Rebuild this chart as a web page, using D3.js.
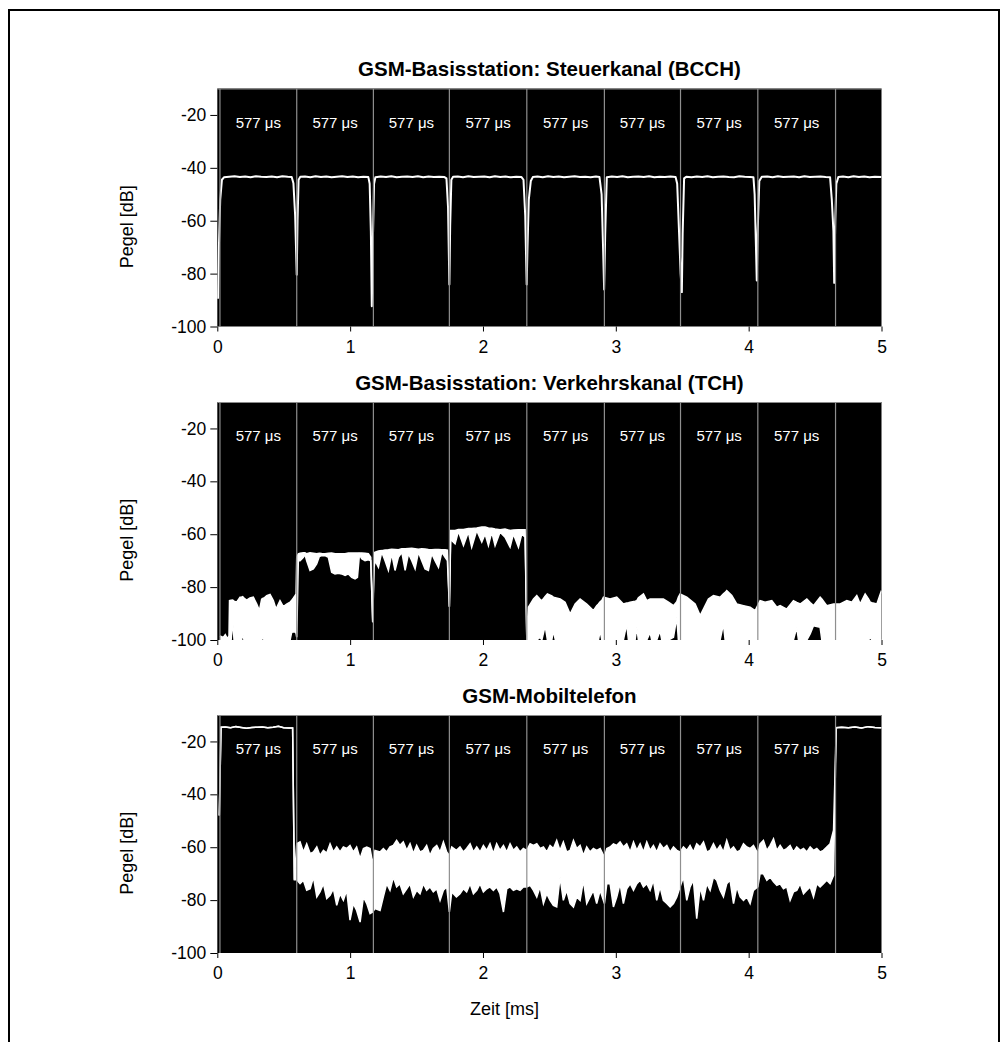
<!DOCTYPE html>
<html><head><meta charset="utf-8">
<script src="https://cdn.jsdelivr.net/npm/d3@7"></script>
<style>
body{margin:0;background:#fff}
svg{display:block}
text{font-family:"Liberation Sans",Arial,Helvetica,sans-serif}
</style>
</head><body>
<svg id="chart" width="1003" height="1042"></svg>
<script>
// ---------------- DATA ----------------
const panelTitles = [
  "GSM-Basisstation: Steuerkanal (BCCH)",
  "GSM-Basisstation: Verkehrskanal (TCH)",
  "GSM-Mobiltelefon"
];
const xLabel = "Zeit [ms]";
const yLabel = "Pegel [dB]";
const xTicks = [0, 1, 2, 3, 4, 5];
const yTicks = [-100, -80, -60, -40, -20];
const xDomain = [0, 5];
const yDomain = [-100, -10];
const slotEdges = [0.02, 0.598, 1.175, 1.747, 2.33, 2.914, 3.487, 4.069, 4.654];
const slotLabel = "577 \u03BCs";

// Panel 1: BCCH level trace [t (ms), level (dB)]
const bcch = [
 [0.005,-89.5],[0.012,-70],[0.022,-52],[0.035,-44.5],[0.05,-43.6],[0.09,-43.4],[0.13,-43.2],[0.17,-43.5],
 [0.21,-43.3],[0.25,-43.6],[0.29,-43.2],[0.33,-43.4],[0.37,-43.5],[0.41,-43.3],[0.45,-43.6],[0.49,-43.2],
 [0.53,-43.4],[0.56,-43.5],[0.573,-45.8],[0.586,-58],[0.598,-80.4],[0.604,-60],[0.612,-44.5],[0.625,-43.4],
 [0.66,-43.3],[0.70,-43.6],[0.74,-43.2],[0.78,-43.5],[0.82,-43.3],[0.86,-43.6],[0.90,-43.4],[0.94,-43.2],
 [0.98,-43.5],[1.02,-43.3],[1.06,-43.6],[1.10,-43.4],[1.137,-43.5],[1.147,-46],[1.156,-64],[1.163,-92.3],
 [1.170,-70],[1.180,-46],[1.19,-43.6],[1.23,-43.3],[1.27,-43.5],[1.31,-43.2],[1.35,-43.6],[1.39,-43.4],
 [1.43,-43.3],[1.47,-43.5],[1.51,-43.2],[1.55,-43.6],[1.59,-43.3],[1.63,-43.5],[1.67,-43.4],[1.71,-43.5],
 [1.725,-44],[1.737,-55],[1.747,-84.1],[1.753,-62],[1.762,-44.5],[1.775,-43.4],[1.81,-43.3],[1.85,-43.6],
 [1.89,-43.2],[1.93,-43.5],[1.97,-43.4],[2.01,-43.3],[2.05,-43.6],[2.09,-43.2],[2.13,-43.5],[2.17,-43.3],
 [2.21,-43.6],[2.25,-43.4],[2.29,-43.5],[2.305,-44.5],[2.318,-58],[2.329,-84.1],[2.335,-70],[2.345,-52],
 [2.36,-45],[2.375,-43.5],[2.41,-43.3],[2.45,-43.6],[2.49,-43.2],[2.53,-43.5],[2.57,-43.3],[2.61,-43.6],
 [2.65,-43.4],[2.69,-43.2],[2.73,-43.5],[2.77,-43.4],[2.81,-43.6],[2.85,-43.3],[2.877,-43.5],[2.893,-50],
 [2.905,-72],[2.912,-86.0],[2.920,-65],[2.932,-43.6],[2.97,-43.3],[3.01,-43.5],[3.05,-43.2],[3.09,-43.6],
 [3.13,-43.4],[3.17,-43.3],[3.21,-43.5],[3.25,-43.2],[3.29,-43.6],[3.33,-43.4],[3.37,-43.5],[3.41,-43.3],
 [3.45,-43.5],[3.462,-46],[3.475,-63],[3.488,-80],[3.497,-87.0],[3.503,-65],[3.514,-44],[3.53,-43.4],
 [3.57,-43.6],[3.61,-43.3],[3.65,-43.5],[3.69,-43.2],[3.73,-43.6],[3.77,-43.4],[3.81,-43.3],[3.85,-43.5],
 [3.89,-43.6],[3.93,-43.2],[3.97,-43.4],[4.01,-43.5],[4.036,-43.6],[4.045,-50],[4.055,-70],[4.061,-82.6],
 [4.068,-64],[4.08,-45],[4.099,-43.4],[4.14,-43.3],[4.18,-43.6],[4.22,-43.2],[4.26,-43.5],[4.30,-43.4],
 [4.34,-43.3],[4.38,-43.6],[4.42,-43.2],[4.46,-43.5],[4.50,-43.4],[4.54,-43.3],[4.58,-43.5],[4.613,-43.6],
 [4.626,-52.1],[4.638,-64],[4.644,-83.5],[4.652,-60],[4.66,-46],[4.675,-43.5],[4.71,-43.3],[4.75,-43.6],
 [4.79,-43.2],[4.83,-43.5],[4.87,-43.3],[4.91,-43.6],[4.95,-43.4],[5.0,-43.5]
];

// Panel 2: TCH envelope [t (ms), upper (dB), lower (dB)]
const tch = [
 [0.02,-98.5,-100],[0.045,-99,-100],[0.06,-98,-100],[0.075,-99.5,-100],[0.088,-98.5,-100],
 [0.092,-85.1,-100],[0.104,-85.0,-100],[0.116,-84.9,-92.7],[0.126,-85.3,-100],[0.146,-85.7,-100],
 [0.171,-83.8,-100],[0.183,-83.7,-100],[0.191,-83.6,-97.4],[0.201,-84.2,-100],[0.221,-84.9,-100],
 [0.246,-84.1,-100],[0.271,-83.8,-100],[0.297,-86.4,-100],[0.317,-88.9,-100],[0.334,-84.6,-100],
 [0.342,-84.3,-98.7],[0.352,-84.1,-100],[0.372,-83.2,-100],[0.397,-82.8,-100],[0.422,-85.1,-100],
 [0.442,-88.3,-100],[0.472,-85.1,-100],[0.497,-87.4,-100],[0.522,-86.4,-100],[0.548,-85.7,-100],
 [0.560,-85.0,-97.1],[0.573,-84.1,-97.0],[0.585,-83.2,-96.9],[0.593,-82.6,-97.5],
 [0.598,-68.7,-99],[0.610,-67.4,-70.0],[0.623,-67.2,-70.0],[0.648,-67.0,-68.7],[0.660,-67.0,-67.7],
 [0.673,-67.4,-70.0],[0.698,-67.0,-73.7],[0.723,-67.2,-73.1],[0.748,-67.4,-71.2],[0.768,-67.2,-68.4],
 [0.786,-67.3,-68.1],[0.811,-67.4,-68.1],[0.836,-67.2,-68.7],[0.861,-67.1,-74.4],[0.886,-67.4,-75.0],
 [0.911,-67.4,-74.8],[0.936,-67.4,-75.0],[0.962,-67.4,-75.6],[0.987,-67.1,-75.0],[1.012,-67.1,-76.3],
 [1.037,-67.1,-76.9],[1.055,-67.1,-76.3],[1.070,-67.1,-67.7],[1.087,-67.1,-69.3],[1.112,-67.2,-70.0],
 [1.137,-67.4,-69.7],[1.155,-68.7,-70.0],[1.170,-93.3,-93.3],[1.180,-67.0,-72.5],
 [1.188,-66.8,-70.0],[1.213,-66.3,-72.5],[1.238,-66.2,-66.8],[1.263,-66.0,-70.0],[1.288,-65.9,-73.7],
 [1.313,-65.7,-67.4],[1.338,-65.8,-73.7],[1.363,-65.9,-68.7],[1.389,-65.5,-66.8],[1.414,-65.5,-73.7],
 [1.439,-65.4,-67.4],[1.464,-65.3,-70.0],[1.489,-65.5,-73.1],[1.514,-65.7,-66.8],[1.539,-65.5,-70.0],
 [1.564,-65.6,-73.1],[1.589,-65.8,-73.7],[1.614,-65.9,-67.4],[1.639,-65.8,-70.0],[1.665,-65.8,-72.5],
 [1.690,-65.9,-66.8],[1.715,-65.9,-68.7],[1.732,-66.0,-70.0],[1.747,-87.4,-87.4],[1.757,-58.6,-62.0],
 [1.765,-58.6,-62.4],[1.790,-58.6,-63.6],[1.815,-58.2,-58.9],[1.853,-58.2,-64.3],[1.890,-57.8,-59.2],
 [1.915,-57.8,-64.9],[1.953,-57.6,-58.6],[1.991,-57.3,-63.0],[2.016,-57.3,-59.9],[2.041,-57.6,-64.3],
 [2.066,-57.7,-59.2],[2.091,-58.0,-64.3],[2.129,-58.3,-59.2],[2.166,-58.0,-61.1],[2.204,-58.6,-64.9],
 [2.229,-58.4,-59.9],[2.267,-58.3,-64.9],[2.292,-58.3,-59.9],[2.317,-58.3,-61.1],[2.330,-100,-100],
 [2.342,-87.6,-100],[2.380,-84.5,-100],[2.405,-83.2,-100],[2.430,-84.6,-99.0],[2.443,-85.1,-100],
 [2.468,-83.5,-94.6],[2.485,-82.6,-100],[2.518,-83.3,-100],[2.530,-83.8,-96.5],[2.545,-84.0,-100],
 [2.581,-84.5,-100],[2.618,-85.7,-100],[2.656,-90.2,-100],[2.694,-86.4,-100],[2.731,-84.5,-100],
 [2.781,-86.4,-100],[2.831,-88.9,-100],[2.856,-87.0,-100],[2.869,-86.4,-100],[2.882,-85.5,-96.5],
 [2.895,-85.0,-100],[2.907,-83.8,-100],[2.957,-84.5,-100],[3.007,-83.8,-100],[3.057,-86.4,-100],
 [3.082,-86.0,-94.0],[3.095,-85.9,-100],[3.108,-85.7,-100],[3.145,-85.3,-100],[3.158,-85.1,-95.2],
 [3.170,-84.0,-100],[3.208,-82.6,-100],[3.233,-85.1,-100],[3.258,-84.5,-97.1],[3.270,-84.5,-100],
 [3.308,-84.5,-100],[3.333,-84.5,-96.5],[3.346,-84.5,-100],[3.358,-84.5,-100],[3.396,-85.7,-100],
 [3.434,-87.0,-99.0],[3.459,-85.5,-91.4],[3.471,-83.8,-100],[3.484,-82.6,-100],[3.534,-83.8,-100],
 [3.597,-86.4,-100],[3.635,-90.8,-100],[3.697,-84.5,-100],[3.735,-83.2,-100],[3.785,-83.8,-100],
 [3.810,-82.5,-94.0],[3.823,-82.0,-100],[3.835,-81.3,-100],[3.873,-83.2,-100],[3.911,-86.4,-100],
 [3.961,-87.0,-100],[4.011,-87.6,-100],[4.049,-88.9,-100],[4.086,-85.1,-100],[4.124,-85.7,-100],
 [4.174,-85.1,-100],[4.212,-87.6,-100],[4.237,-87.0,-100],[4.287,-88.3,-100],[4.337,-85.1,-100],
 [4.362,-85.8,-95.2],[4.375,-86.1,-100],[4.388,-86.4,-100],[4.438,-84.5,-100],[4.463,-85.8,-97.7],
 [4.488,-87.0,-94.6],[4.538,-83.8,-95.2],[4.551,-84.5,-100],[4.588,-87.0,-100],[4.639,-86.4,-100],
 [4.689,-86.4,-100],[4.739,-85.1,-100],[4.777,-85.7,-100],[4.814,-83.2,-100],[4.839,-86.4,-100],
 [4.877,-82.6,-100],[4.903,-84.5,-100],[4.915,-85.7,-99.0],[4.928,-85.9,-100],[4.965,-86.4,-100],
 [5.0,-81.3,-100]
];

// Panel 3: mobile phone envelope [t (ms), upper (dB), lower (dB)]
const mobile = [
 [0.015,-48,-48],[0.028,-14.6,-14.6],[0.06,-14.5,-14.5],[0.10,-14.8,-14.8],[0.14,-14.4,-14.4],
 [0.18,-14.7,-14.7],[0.22,-15.0,-15.0],[0.26,-14.7,-14.7],[0.30,-14.6,-14.6],[0.34,-14.5,-14.5],
 [0.38,-14.8,-14.8],[0.42,-14.6,-14.6],[0.46,-14.3,-14.3],[0.50,-14.8,-14.8],[0.54,-14.9,-14.9],
 [0.567,-14.9,-14.9],[0.580,-72.3,-72.3],
 [0.598,-58.7,-72.3],[0.623,-58.0,-73.8],[0.648,-61.8,-72.5],[0.673,-58.7,-76.3],[0.699,-62.4,-75.7],
 [0.724,-61.8,-71.3],[0.749,-59.9,-78.8],[0.773,-63.1,-76.9],[0.799,-61.2,-73.8],[0.824,-62.2,-79.4],
 [0.849,-58.7,-78.2],[0.874,-61.8,-75.7],[0.899,-59.9,-82.0],[0.924,-61.8,-77.6],[0.949,-59.9,-80.1],
 [0.974,-60.5,-76.3],[0.999,-59.3,-87.6],[1.024,-61.8,-81.3],[1.049,-59.9,-83.9],[1.075,-64.3,-88.3],
 [1.100,-60.5,-78.8],[1.125,-59.9,-81.3],[1.150,-60.5,-85.1],[1.170,-66.2,-84.5],[1.187,-61.2,-83.2],
 [1.225,-61.8,-83.9],[1.250,-60.5,-78.8],[1.275,-61.8,-73.8],[1.300,-59.9,-76.3],[1.325,-59.3,-71.3],
 [1.350,-57.4,-75.0],[1.375,-59.3,-73.8],[1.400,-58.0,-77.6],[1.426,-61.2,-75.7],[1.451,-58.7,-73.8],
 [1.476,-62.4,-78.8],[1.501,-59.3,-76.3],[1.526,-61.8,-77.6],[1.551,-61.2,-73.8],[1.576,-59.3,-76.3],
 [1.601,-63.1,-75.0],[1.626,-60.5,-76.9],[1.652,-59.3,-75.7],[1.677,-61.8,-80.1],[1.702,-58.0,-76.3],
 [1.727,-61.8,-75.0],[1.747,-63.1,-84.5],[1.765,-59.9,-76.9],[1.800,-61.2,-78.8],[1.827,-59.9,-77.6],
 [1.852,-61.8,-75.7],[1.877,-60.5,-76.9],[1.903,-58.7,-73.8],[1.928,-61.8,-77.6],[1.953,-59.9,-76.3],
 [1.978,-61.8,-73.8],[2.003,-59.3,-76.9],[2.028,-61.2,-75.7],[2.053,-58.7,-75.0],[2.078,-62.4,-76.3],
 [2.103,-58.7,-75.0],[2.128,-61.2,-77.6],[2.154,-59.3,-84.5],[2.179,-61.8,-75.7],[2.204,-58.7,-75.0],
 [2.229,-61.2,-76.3],[2.254,-59.9,-75.7],[2.279,-61.8,-76.3],[2.304,-60.5,-75.0],[2.329,-61.2,-75.0],
 [2.355,-58.7,-74.4],[2.380,-59.3,-76.3],[2.405,-58.7,-78.8],[2.430,-60.5,-75.0],[2.455,-59.9,-81.3],
 [2.480,-61.8,-77.6],[2.505,-59.3,-80.1],[2.530,-60.5,-82.0],[2.555,-57.4,-82.6],[2.580,-61.2,-71.3],
 [2.605,-58.0,-80.1],[2.630,-61.8,-76.3],[2.656,-61.2,-81.3],[2.681,-57.4,-82.6],[2.706,-60.5,-78.8],
 [2.731,-59.3,-80.1],[2.756,-63.1,-72.5],[2.781,-59.9,-81.3],[2.806,-61.8,-78.8],[2.831,-60.5,-76.3],
 [2.856,-61.2,-81.3],[2.882,-60.5,-76.3],[2.914,-63.7,-81.3],[2.932,-60.5,-73.8],[2.957,-59.9,-73.8],
 [2.982,-58.7,-82.6],[3.007,-59.3,-78.8],[3.032,-58.0,-73.8],[3.057,-59.9,-81.3],[3.082,-58.7,-75.7],
 [3.108,-61.8,-73.8],[3.133,-58.0,-76.3],[3.158,-61.2,-73.8],[3.183,-58.7,-72.5],[3.208,-61.8,-75.0],
 [3.233,-58.0,-73.8],[3.258,-61.2,-76.3],[3.283,-59.3,-72.5],[3.308,-61.8,-80.1],[3.333,-58.7,-75.0],
 [3.358,-60.5,-80.1],[3.384,-59.3,-81.3],[3.409,-61.8,-82.6],[3.434,-59.9,-81.3],[3.459,-61.2,-78.8],
 [3.484,-61.8,-75.0],[3.509,-59.9,-71.3],[3.534,-61.2,-80.1],[3.559,-59.3,-75.0],[3.584,-61.8,-72.5],
 [3.609,-58.7,-87.0],[3.635,-59.9,-75.0],[3.660,-58.0,-80.1],[3.685,-61.8,-73.8],[3.710,-61.2,-76.3],
 [3.735,-58.7,-71.3],[3.760,-61.2,-72.5],[3.785,-59.3,-76.3],[3.810,-61.8,-78.8],[3.835,-57.4,-73.8],
 [3.860,-61.2,-72.5],[3.886,-59.9,-81.3],[3.911,-61.8,-75.0],[3.936,-61.2,-78.8],[3.961,-58.7,-80.1],
 [3.986,-59.9,-78.8],[4.011,-60.5,-81.3],[4.036,-59.3,-76.3],[4.069,-62.4,-75.0],[4.086,-58.7,-70.0],
 [4.111,-57.4,-70.0],[4.137,-61.2,-72.5],[4.162,-59.3,-71.3],[4.187,-56.8,-73.1],[4.212,-61.2,-74.4],
 [4.237,-59.3,-73.8],[4.262,-61.2,-75.7],[4.287,-60.5,-75.0],[4.312,-59.3,-80.1],[4.337,-61.8,-76.9],
 [4.362,-59.9,-76.3],[4.388,-61.2,-73.8],[4.413,-60.5,-77.6],[4.438,-61.8,-76.3],[4.463,-59.9,-75.0],
 [4.488,-61.2,-78.8],[4.513,-60.5,-73.8],[4.538,-61.8,-75.0],[4.563,-61.2,-73.8],[4.588,-59.9,-72.5],
 [4.613,-58.7,-73.8],[4.639,-53.6,-70.6],[4.659,-14.8,-14.8],[4.70,-14.6,-14.6],[4.75,-14.8,-14.8],
 [4.80,-14.5,-14.5],[4.85,-14.9,-14.9],[4.90,-14.4,-14.4],[4.95,-14.7,-14.7],[5.0,-14.8,-14.8]
];

// ---------------- LAYOUT ----------------
const svg = d3.select("#chart");
const plotLeft = 217.3, plotRight = 881.5;
const panelTops = [88.5, 402, 715];
const panelH = 238;

svg.append("rect").attr("x", 9).attr("y", 10).attr("width", 990).attr("height", 1060)
  .attr("fill", "none").attr("stroke", "#000").attr("stroke-width", 2);

const x = d3.scaleLinear().domain(xDomain).range([plotLeft, plotRight]);

panelTitles.forEach((title, i) => {
  const top = panelTops[i], bottom = top + panelH;
  const y = d3.scaleLinear().domain(yDomain).range([bottom, top]);
  const g = svg.append("g");
  const clipId = "clip" + i;
  svg.append("clipPath").attr("id", clipId).append("rect")
    .attr("x", plotLeft).attr("y", top).attr("width", plotRight - plotLeft).attr("height", panelH);

  g.append("rect").attr("x", plotLeft).attr("y", top)
    .attr("width", plotRight - plotLeft).attr("height", panelH).attr("fill", "#000");

  const tg = g.append("g").attr("clip-path", `url(#${clipId})`);
  if (i === 0) {
    tg.append("path").datum(bcch)
      .attr("d", d3.line().x(d => x(d[0])).y(d => y(d[1])))
      .attr("fill", "none").attr("stroke", "#fff").attr("stroke-width", 2).attr("stroke-linejoin", "round");
  } else {
    const data = i === 1 ? tch : mobile;
    tg.append("path").datum(data)
      .attr("d", d3.area().x(d => x(d[0])).y0(d => y(d[2])).y1(d => y(d[1])))
      .attr("fill", "#fff");
    [1, 2].forEach(k => {
      tg.append("path").datum(data)
        .attr("d", d3.line().x(d => x(d[0])).y(d => y(d[k])))
        .attr("fill", "none").attr("stroke", "#fff").attr("stroke-width", 1.5);
    });
  }

  // top edge
  g.append("line").attr("x1", plotLeft).attr("x2", plotRight).attr("y1", top + 0.5).attr("y2", top + 0.5)
    .attr("stroke", "#8a8a8a").attr("stroke-width", 1.2);
  // slot boundaries
  g.selectAll("line.slot").data(slotEdges).enter().append("line")
    .attr("x1", d => x(d)).attr("x2", d => x(d)).attr("y1", top).attr("y2", bottom)
    .attr("stroke", "#8f8f8f").attr("stroke-width", 1.2);
  // slot labels
  g.selectAll("text.slot").data(d3.pairs(slotEdges)).enter().append("text")
    .attr("x", d => x((d[0] + d[1]) / 2)).attr("y", top + 39)
    .attr("text-anchor", "middle").attr("fill", "#fff").attr("font-size", 15)
    .text(slotLabel);

  // axes
  const ya = g.append("g").attr("transform", `translate(${plotLeft},0)`)
    .call(d3.axisLeft(y).tickValues(yTicks).tickSize(7).tickPadding(4).tickFormat(d => String(d)));
  ya.select(".domain").remove();
  ya.selectAll("text").attr("font-size", 17.5).attr("font-family", "Liberation Sans, Arial, sans-serif").attr("fill", "#000");
  const xa = g.append("g").attr("transform", `translate(0,${bottom})`)
    .call(d3.axisBottom(x).tickValues(xTicks).tickSize(5).tickPadding(8.6).tickFormat(d => String(d)));
  xa.select(".domain").remove();
  xa.selectAll("text").attr("font-size", 17.5).attr("font-family", "Liberation Sans, Arial, sans-serif").attr("fill", "#000");

  // title
  svg.append("text").attr("x", (plotLeft + plotRight) / 2).attr("y", top - 12.5)
    .attr("text-anchor", "middle").attr("font-weight", "bold").attr("font-size", 20.5)
    .text(title);
  // y label
  svg.append("text").attr("transform", `translate(133,${top + 138.2}) rotate(-90)`)
    .attr("text-anchor", "middle").attr("font-size", 18).text(yLabel);
});

svg.append("text").attr("x", 504.5).attr("y", 1015).attr("text-anchor", "middle")
  .attr("font-size", 18).text(xLabel);
</script>
</body></html>
